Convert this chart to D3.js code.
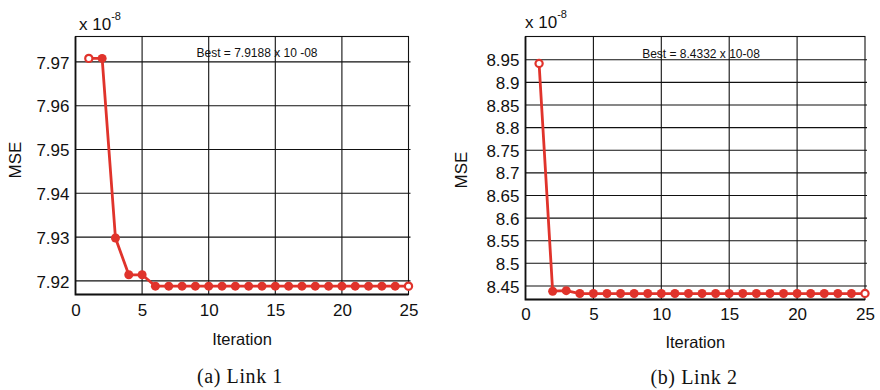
<!DOCTYPE html>
<html>
<head>
<meta charset="utf-8">
<script src="https://cdn.jsdelivr.net/npm/d3@7"></script>
<style>
  html, body { margin: 0; padding: 0; background: #fff; }
  svg { display: block; }
  text { font-family: "Liberation Sans", Arial, sans-serif; fill: #111; }
</style>
</head>
<body>
<svg id="chart" width="880" height="390"></svg>
<script>
// Iteration numbers shared by both runs
const iterations = d3.range(1, 26);

// MSE per iteration (units of 1e-8)
const mseLink1 = [7.9708, 7.9708, 7.9298, 7.9214, 7.9214,
  7.9188, 7.9188, 7.9188, 7.9188, 7.9188, 7.9188, 7.9188, 7.9188,
  7.9188, 7.9188, 7.9188, 7.9188, 7.9188, 7.9188, 7.9188, 7.9188,
  7.9188, 7.9188, 7.9188, 7.9188];
const mseLink2 = [8.9418, 8.4383, 8.4395, 8.4332, 8.4332,
  8.4332, 8.4332, 8.4332, 8.4332, 8.4332, 8.4332, 8.4332, 8.4332,
  8.4332, 8.4332, 8.4332, 8.4332, 8.4332, 8.4332, 8.4332, 8.4332,
  8.4332, 8.4332, 8.4332, 8.4332];

// Tick values
const xTicks = [0, 5, 10, 15, 20, 25];
const yTicksLink1 = [7.92, 7.93, 7.94, 7.95, 7.96, 7.97];
const yTicksLink2 = [8.45, 8.5, 8.55, 8.6, 8.65, 8.7, 8.75, 8.8, 8.85, 8.9, 8.95];

// Text
const bestLabels = ["Best = 7.9188 x 10 -08", "Best = 8.4332 x 10-08"];
const captions = ["(a) Link 1", "(b) Link 2"];

const svg = d3.select("#chart");
const lineColor = "#e0332b";
const tickFont = "17px";

const panels = [
  { values: mseLink1, yTicks: yTicksLink1, yDomain: [7.9169, 7.9758],
    left: 75.5, right: 408.5, top: 36.5, bottom: 294.5,
    best: bestLabels[0], caption: captions[0], fmt: d3.format(".2f"),
    mseX: 15, mseY: 160, capX: 240, iterY: 345, xLabY: 316, capY: 383,
    expX: 79, expY: 30, bestX: 257, bestY: 57 },
  { values: mseLink2, yTicks: yTicksLink2, yDomain: [8.42, 9.0015],
    left: 525.5, right: 865, top: 36.5, bottom: 299.5,
    best: bestLabels[1], caption: captions[1], fmt: d => d3.format("")(+d.toFixed(2)),
    mseX: 461, mseY: 170, capX: 694, iterY: 348, xLabY: 320, capY: 384,
    expX: 525, expY: 28, bestX: 701, bestY: 58 }
];

panels.forEach(p => {
  const x = d3.scaleLinear().domain([0, 25]).range([p.left, p.right]);
  const y = d3.scaleLinear().domain(p.yDomain).range([p.bottom, p.top]);
  const g = svg.append("g");

  // Grid
  g.append("g").selectAll("line").data(xTicks.slice(1, -1)).join("line")
    .attr("x1", d => x(d)).attr("x2", d => x(d))
    .attr("y1", p.top).attr("y2", p.bottom)
    .attr("stroke", "#111").attr("stroke-width", 1.1);
  g.append("g").selectAll("line").data(p.yTicks).join("line")
    .attr("x1", p.left).attr("x2", p.right + 2)
    .attr("y1", d => y(d)).attr("y2", d => y(d))
    .attr("stroke", "#111").attr("stroke-width", 1.1);

  // Frame: heavier left and bottom axes
  g.append("rect")
    .attr("x", p.left).attr("y", p.top)
    .attr("width", p.right - p.left).attr("height", p.bottom - p.top)
    .attr("fill", "none").attr("stroke", "#111").attr("stroke-width", 1.1);
  g.append("path")
    .attr("d", `M${p.left},${p.top}V${p.bottom}H${p.right}`)
    .attr("fill", "none").attr("stroke", "#111").attr("stroke-width", 1.8);

  // Axis tick labels
  const xAxis = d3.axisBottom(x).tickValues(xTicks).tickSize(0).tickFormat(d3.format("d"));
  const xa = g.append("g").attr("transform", `translate(0,${p.bottom})`).call(xAxis);
  xa.select(".domain").remove();
  xa.selectAll("text").attr("dy", null).attr("y", p.xLabY - p.bottom)
    .style("font-size", tickFont).style("font-family", "Liberation Sans, Arial, sans-serif");

  const yAxis = d3.axisLeft(y).tickValues(p.yTicks).tickSize(0).tickFormat(p.fmt);
  const ya = g.append("g").attr("transform", `translate(${p.left},0)`).call(yAxis);
  ya.select(".domain").remove();
  ya.selectAll("text").attr("x", -6).attr("dy", "0.36em")
    .style("font-size", tickFont).style("font-family", "Liberation Sans, Arial, sans-serif");

  // Exponent marker
  const exp = g.append("text").attr("x", p.expX).attr("y", p.expY)
    .style("font-size", "17px");
  exp.append("tspan").text("x 10");
  exp.append("tspan").attr("dy", -10).style("font-size", "11px").text("-8");

  // Titles
  g.append("text").attr("transform", `translate(${p.mseX},${p.mseY}) rotate(-90)`)
    .attr("text-anchor", "middle").attr("dy", "0.35em")
    .style("font-size", "17px").text("MSE");
  g.append("text").attr("x", (p.left + p.right) / 2).attr("y", p.iterY)
    .attr("text-anchor", "middle").style("font-size", "16.5px").text("Iteration");
  g.append("text").attr("x", p.bestX).attr("y", p.bestY)
    .attr("text-anchor", "middle").style("font-size", "12px").text(p.best);
  g.append("text").attr("x", p.capX).attr("y", p.capY)
    .attr("text-anchor", "middle")
    .style("font-family", "Liberation Serif, Times New Roman, serif")
    .style("font-size", "20px").style("letter-spacing", "0.6px").text(p.caption);

  // Series line
  const pts = iterations.map((it, i) => ({ it, v: p.values[i], i }));
  const isEnd = d => d.i === 0 || d.i === pts.length - 1;
  g.append("path").datum(pts)
    .attr("d", d3.line().x(d => x(d.it)).y(d => y(d.v)))
    .attr("fill", "none").attr("stroke", lineColor).attr("stroke-width", 2.8)
    .attr("stroke-linejoin", "round");

  // Markers: open at the first and last iteration
  g.append("g").selectAll("circle").data(pts).join("circle")
    .attr("cx", d => x(d.it)).attr("cy", d => y(d.v))
    .attr("r", d => isEnd(d) ? 3.6 : 4.5)
    .attr("fill", d => isEnd(d) ? "#fff" : lineColor)
    .attr("stroke", lineColor)
    .attr("stroke-width", d => isEnd(d) ? 2.2 : 0);
});
</script>
</body>
</html>
